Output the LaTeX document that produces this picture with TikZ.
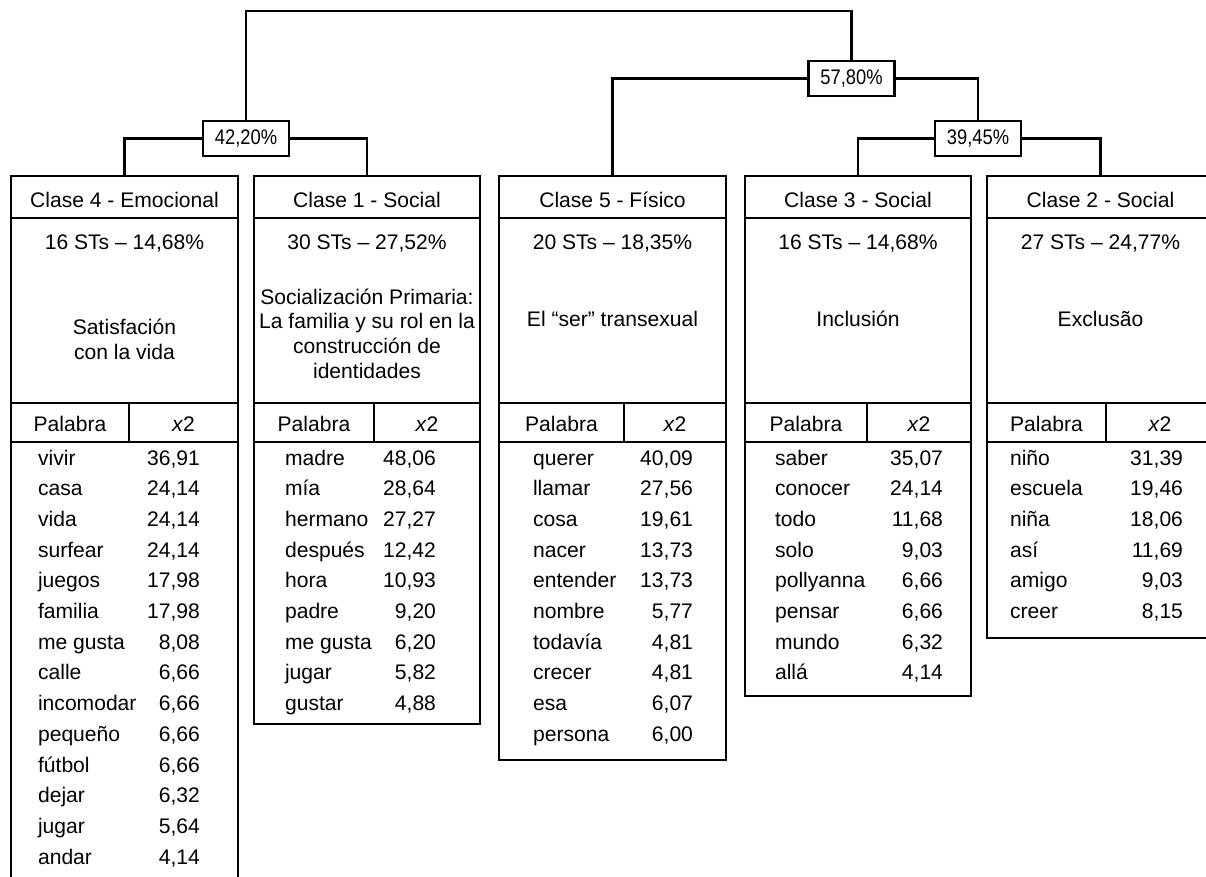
\documentclass[tikz,border=0pt]{standalone}
\usepackage{fontspec}
\setmainfont{Liberation Sans}
\usepackage{tikz}

\begin{document}
\begin{tikzpicture}[x=0.02cm, y=-0.02cm, line width=1.2pt,
	every node/.style={font=\fontsize{12}{14}\selectfont},
	cell/.style={inner sep=0pt, text height=9pt, text depth=2.5pt},
	word/.style={cell, anchor=west},
	chi/.style={cell, anchor=east},
	desc/.style={align=center, inner sep=0pt},
	pct/.style={draw, fill=white, minimum width=1.72cm, minimum height=0.70cm, inner sep=0pt}]

	\useasboundingbox (0,0) rectangle (1206,876);

	%% Draw percentage labels
	\node[pct] (p42) at (246,138.5) {\scalebox{0.87}[1]{42,20\%}};
	\node[pct] (p58) at (851.5,78.5) {\scalebox{0.87}[1]{57,80\%}};
	\node[pct] (p39) at (978,138.5)  {\scalebox{0.87}[1]{39,45\%}};

	\coordinate (top) at (550,11);
	\coordinate (t4) at (124.5,176);
	\coordinate (t1) at (367,176);
	\coordinate (t5) at (612.5,176);
	\coordinate (t3) at (858,176);
	\coordinate (t2) at (1100.5,176);

	%% Draw tree lines
	\draw (p42.north) |- (top) -| (p58.north);
	\draw (p42.west) -| (t4);
	\draw (p42.east) -| (t1);
	\draw (p58.west) -| (t5);
	\draw (p58.east) -| (p39.north);
	\draw (p39.west) -| (t3);
	\draw (p39.east) -| (t2);

	%% Draw class boxes
	\draw (11,176) rectangle (238,890);
	\draw (11,218) -- (238,218);
	\draw (11,403) -- (238,403);
	\draw (11,442) -- (238,442);
	\draw (129,403) -- (129,442);

	\draw (254,176) rectangle (480,724);
	\draw (254,218) -- (480,218);
	\draw (254,403) -- (480,403);
	\draw (254,442) -- (480,442);
	\draw (374,403) -- (374,442);

	\draw (499,176) rectangle (726,760);
	\draw (499,218) -- (726,218);
	\draw (499,403) -- (726,403);
	\draw (499,442) -- (726,442);
	\draw (624,403) -- (624,442);

	\draw (745,176) rectangle (971,696);
	\draw (745,218) -- (971,218);
	\draw (745,403) -- (971,403);
	\draw (745,442) -- (971,442);
	\draw (867,403) -- (867,442);

	\draw (987,176) rectangle (1214,638);
	\draw (987,218) -- (1214,218);
	\draw (987,403) -- (1214,403);
	\draw (987,442) -- (1214,442);
	\draw (1106,403) -- (1106,442);

	%% Draw box headings
	\node[cell] (c4) at (124.5,201.3) {Clase 4 - Emocional};
	\node[cell] (c1) at (367,201.3)   {Clase 1 - Social};
	\node[cell] (c5) at (612.5,201.3) {Clase 5 - Físico};
	\node[cell] (c3) at (858,201.3)   {Clase 3 - Social};
	\node[cell] (c2) at (1100.5,201.3) {Clase 2 - Social};

	\node[cell] (n4) at (124.5,243.8) {16 STs -- 14,68\%};
	\node[cell] (n1) at (367,243.8)   {30 STs -- 27,52\%};
	\node[cell] (n5) at (612.5,243.8) {20 STs -- 18,35\%};
	\node[cell] (n3) at (858,243.8)   {16 STs -- 14,68\%};
	\node[cell] (n2) at (1100.5,243.8) {27 STs -- 24,77\%};

	\node[desc] (d4) at (124.5,339.5) {Satisfación\\con la vida};
	\node[desc] (d1) at (367,333.5)   {Socialización Primaria:\\La familia y su rol en la\\construcción de\\identidades};
	\node[cell] (d5) at (612.5,321)   {El “ser” transexual};
	\node[cell] (d3) at (858,321)     {Inclusión};
	\node[cell] (d2) at (1100.5,321)  {Exclusão};

	%% Draw table headers
	\node[cell] (h4a) at (70,425.3)    {Palabra};
	\node[cell] (h4b) at (183.5,425.3) {\textit{x}2};
	\node[cell] (h1a) at (314,425.3)   {Palabra};
	\node[cell] (h1b) at (427,425.3)   {\textit{x}2};
	\node[cell] (h5a) at (561.5,425.3) {Palabra};
	\node[cell] (h5b) at (675,425.3)   {\textit{x}2};
	\node[cell] (h3a) at (806,425.3)   {Palabra};
	\node[cell] (h3b) at (919,425.3)   {\textit{x}2};
	\node[cell] (h2a) at (1046.5,425.3) {Palabra};
	\node[cell] (h2b) at (1160,425.3)  {\textit{x}2};

	%% Draw word rows
	\foreach \w/\v [count=\i] in {vivir/{36,91}, casa/{24,14}, vida/{24,14}, surfear/{24,14}, juegos/{17,98}, familia/{17,98}, me gusta/{8,08}, calle/{6,66}, incomodar/{6,66}, pequeño/{6,66}, fútbol/{6,66}, dejar/{6,32}, jugar/{5,64}, andar/{4,14}} {
		\node[word] (w4-\i) at (37,{428.6+30.7*\i}) {\w};
		\node[chi]  (v4-\i) at (201,{428.6+30.7*\i}) {\v};
	}
	\foreach \w/\v [count=\i] in {madre/{48,06}, mía/{28,64}, hermano/{27,27}, después/{12,42}, hora/{10,93}, padre/{9,20}, me gusta/{6,20}, jugar/{5,82}, gustar/{4,88}} {
		\node[word] (w1-\i) at (284,{428.6+30.7*\i}) {\w};
		\node[chi]  (v1-\i) at (437,{428.6+30.7*\i}) {\v};
	}
	\foreach \w/\v [count=\i] in {querer/{40,09}, llamar/{27,56}, cosa/{19,61}, nacer/{13,73}, entender/{13,73}, nombre/{5,77}, todavía/{4,81}, crecer/{4,81}, esa/{6,07}, persona/{6,00}} {
		\node[word] (w5-\i) at (532,{428.6+30.7*\i}) {\w};
		\node[chi]  (v5-\i) at (694,{428.6+30.7*\i}) {\v};
	}
	\foreach \w/\v [count=\i] in {saber/{35,07}, conocer/{24,14}, todo/{11,68}, solo/{9,03}, pollyanna/{6,66}, pensar/{6,66}, mundo/{6,32}, allá/{4,14}} {
		\node[word] (w3-\i) at (774,{428.6+30.7*\i}) {\w};
		\node[chi]  (v3-\i) at (944,{428.6+30.7*\i}) {\v};
	}
	\foreach \w/\v [count=\i] in {niño/{31,39}, escuela/{19,46}, niña/{18,06}, así/{11,69}, amigo/{9,03}, creer/{8,15}} {
		\node[word] (w2-\i) at (1009,{428.6+30.7*\i}) {\w};
		\node[chi]  (v2-\i) at (1184,{428.6+30.7*\i}) {\v};
	}
\end{tikzpicture}
\end{document}
